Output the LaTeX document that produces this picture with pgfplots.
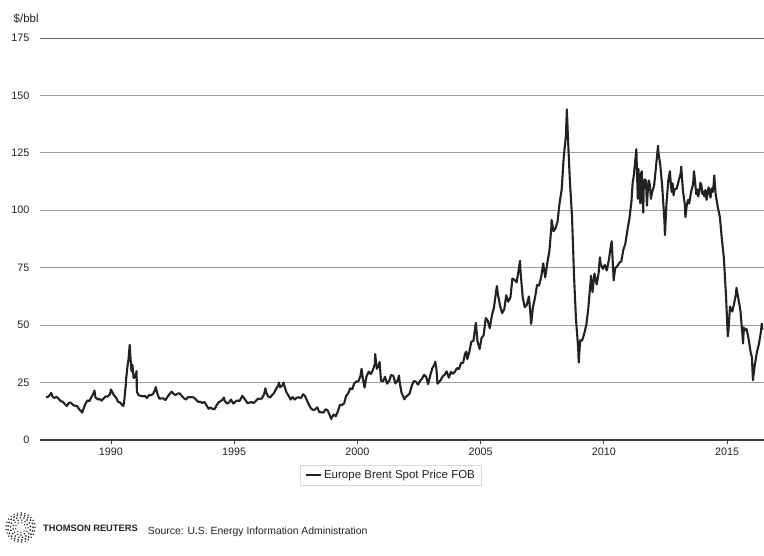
\documentclass[border=0pt]{standalone}
\usepackage{fontspec}
\setmainfont{Liberation Sans}
\usepackage{pgfplots}
\usepackage{pgfplotstable}
\pgfplotsset{compat=1.18}
\definecolor{linec}{HTML}{222222}
\definecolor{gridc}{HTML}{9C9C9C}
\definecolor{txt}{HTML}{222222}
\pgfplotstableread{
x y
1987.37 18.6
1987.46 18.9
1987.54 19.9
1987.58 20.5
1987.62 19.0
1987.71 18.3
1987.79 18.8
1987.87 18.0
1987.96 16.9
1988.04 16.7
1988.12 15.7
1988.21 14.8
1988.29 16.2
1988.37 16.2
1988.46 15.3
1988.54 14.9
1988.62 14.8
1988.71 13.4
1988.79 12.5
1988.83 11.9
1988.87 13.2
1988.96 15.6
1989.04 17.2
1989.12 16.9
1989.21 18.7
1989.29 20.3
1989.33 21.5
1989.37 18.6
1989.46 17.7
1989.54 17.8
1989.62 17.1
1989.71 18.2
1989.79 19.0
1989.87 18.9
1989.96 20.0
1990.00 22.0
1990.04 21.1
1990.12 19.5
1990.21 18.4
1990.29 16.6
1990.37 16.3
1990.46 15.2
1990.50 14.8
1990.54 17.2
1990.60 24.0
1990.62 27.2
1990.68 33.0
1990.71 34.9
1990.76 41.4
1990.79 36.0
1990.83 30.0
1990.87 32.8
1990.92 27.0
1990.96 27.3
1991.00 28.0
1991.04 30.0
1991.05 21.0
1991.12 19.5
1991.21 19.2
1991.29 19.0
1991.37 19.2
1991.46 18.3
1991.54 19.5
1991.62 19.5
1991.71 20.1
1991.79 21.9
1991.82 23.0
1991.87 20.6
1991.96 18.0
1992.04 18.1
1992.12 18.1
1992.21 17.4
1992.29 18.7
1992.37 19.9
1992.46 21.0
1992.54 20.1
1992.62 19.6
1992.71 20.2
1992.79 20.3
1992.87 19.2
1992.96 18.2
1993.04 17.6
1993.12 18.6
1993.21 18.6
1993.29 18.7
1993.37 18.4
1993.46 17.5
1993.54 16.6
1993.62 16.7
1993.71 16.1
1993.79 16.6
1993.87 15.2
1993.96 13.6
1994.04 14.2
1994.12 13.5
1994.21 13.5
1994.29 15.2
1994.37 16.4
1994.46 17.0
1994.54 17.7
1994.58 18.5
1994.62 16.9
1994.71 15.9
1994.79 16.3
1994.87 17.6
1994.96 15.9
1995.04 16.6
1995.12 17.2
1995.21 16.9
1995.29 18.4
1995.33 19.2
1995.37 18.6
1995.46 17.4
1995.54 16.0
1995.62 16.3
1995.71 16.5
1995.79 16.1
1995.87 16.9
1995.96 18.0
1996.04 17.9
1996.12 18.1
1996.21 19.8
1996.27 22.5
1996.29 21.0
1996.37 19.1
1996.46 18.5
1996.54 19.6
1996.62 20.5
1996.71 22.5
1996.79 23.6
1996.81 25.0
1996.87 23.0
1996.96 23.8
1997.00 25.0
1997.04 23.5
1997.12 20.8
1997.21 19.2
1997.29 17.6
1997.37 18.7
1997.46 17.6
1997.54 18.4
1997.62 18.6
1997.71 18.2
1997.79 19.9
1997.87 19.2
1997.96 17.1
1998.04 15.2
1998.12 13.7
1998.21 13.0
1998.29 13.4
1998.37 14.2
1998.46 12.1
1998.54 12.1
1998.62 11.9
1998.71 13.4
1998.79 12.9
1998.87 11.0
1998.94 9.1
1998.96 9.8
1999.04 11.1
1999.12 10.3
1999.21 12.5
1999.29 15.3
1999.37 15.2
1999.46 15.9
1999.54 19.1
1999.62 20.2
1999.71 22.5
1999.79 22.1
1999.87 24.6
1999.96 25.5
2000.04 25.5
2000.12 27.8
2000.17 31.0
2000.21 27.5
2000.29 22.8
2000.37 27.7
2000.46 29.8
2000.54 28.7
2000.62 30.2
2000.71 33.1
2000.72 37.4
2000.79 31.0
2000.87 32.6
2000.90 34.0
2000.96 25.7
2001.04 25.6
2001.12 27.5
2001.21 24.5
2001.29 25.7
2001.37 28.3
2001.46 27.9
2001.54 24.6
2001.62 25.7
2001.69 28.0
2001.71 25.6
2001.79 20.5
2001.87 18.8
2001.90 17.7
2001.96 18.7
2002.04 19.4
2002.12 20.3
2002.21 23.7
2002.29 25.7
2002.37 25.4
2002.46 24.1
2002.54 25.7
2002.62 26.7
2002.71 28.4
2002.79 27.5
2002.87 24.3
2002.96 28.3
2003.04 31.2
2003.12 32.8
2003.16 34.0
2003.21 30.6
2003.25 24.5
2003.29 25.0
2003.37 25.9
2003.46 27.7
2003.54 28.4
2003.62 29.9
2003.71 27.1
2003.79 29.6
2003.87 28.8
2003.96 29.8
2004.04 31.3
2004.12 30.9
2004.21 33.6
2004.29 33.6
2004.37 37.6
2004.42 38.5
2004.46 35.2
2004.54 38.2
2004.62 42.7
2004.71 43.2
2004.79 49.8
2004.81 51.0
2004.87 43.1
2004.96 39.6
2005.04 44.5
2005.12 45.5
2005.21 53.1
2005.29 51.9
2005.37 48.7
2005.46 54.4
2005.54 57.5
2005.62 64.0
2005.66 67.0
2005.71 62.9
2005.79 58.5
2005.87 55.2
2005.96 56.9
2006.04 63.0
2006.12 60.2
2006.21 62.1
2006.29 70.3
2006.37 69.8
2006.46 68.6
2006.54 73.7
2006.60 78.0
2006.62 73.2
2006.71 62.0
2006.79 57.8
2006.87 58.8
2006.96 62.5
2007.03 53.7
2007.05 50.5
2007.12 57.6
2007.21 62.1
2007.29 67.5
2007.37 67.2
2007.46 71.1
2007.54 76.9
2007.62 70.8
2007.71 77.2
2007.79 82.3
2007.87 92.4
2007.88 95.8
2007.96 90.9
2008.04 92.2
2008.12 95.0
2008.21 103.6
2008.29 109.1
2008.37 122.8
2008.46 132.3
2008.50 144.0
2008.54 132.7
2008.62 113.2
2008.71 97.2
2008.79 71.6
2008.87 52.5
2008.96 40.0
2008.98 33.7
2009.04 43.4
2009.12 43.3
2009.21 46.5
2009.29 50.2
2009.37 57.3
2009.46 68.6
2009.48 71.5
2009.54 64.4
2009.62 72.5
2009.71 67.7
2009.79 72.8
2009.84 79.5
2009.87 76.7
2009.96 74.5
2010.04 76.2
2010.12 73.8
2010.21 78.8
2010.29 84.8
2010.32 86.5
2010.37 75.9
2010.40 69.5
2010.46 74.8
2010.54 75.6
2010.62 77.0
2010.71 77.8
2010.79 82.7
2010.87 85.3
2010.96 91.5
2011.04 96.5
2011.12 103.7
2011.17 112.0
2011.21 114.6
2011.29 123.3
2011.32 126.6
2011.35 115.0
2011.38 105.0
2011.41 118.0
2011.43 108.0
2011.46 113.8
2011.48 103.0
2011.51 116.0
2011.54 117.0
2011.57 106.0
2011.60 99.0
2011.62 110.2
2011.66 113.5
2011.71 112.8
2011.75 102.0
2011.79 109.6
2011.83 113.0
2011.87 110.8
2011.91 105.0
2011.96 107.9
2012.04 110.7
2012.12 119.3
2012.20 128.1
2012.21 125.5
2012.29 119.8
2012.37 110.3
2012.46 95.2
2012.48 89.2
2012.54 102.6
2012.62 113.4
2012.68 117.0
2012.71 112.9
2012.75 108.0
2012.79 111.7
2012.83 106.5
2012.87 109.1
2012.96 109.5
2013.04 113.0
2013.12 116.1
2013.14 119.0
2013.21 108.5
2013.29 102.3
2013.31 97.0
2013.37 102.6
2013.42 104.5
2013.46 102.9
2013.54 107.9
2013.62 111.3
2013.66 117.0
2013.71 111.6
2013.75 107.0
2013.79 109.1
2013.83 106.0
2013.87 107.8
2013.92 112.0
2013.96 110.8
2014.00 107.0
2014.04 108.1
2014.08 106.0
2014.12 108.9
2014.17 104.5
2014.21 107.5
2014.25 110.0
2014.29 107.8
2014.33 105.5
2014.37 109.5
2014.42 108.0
2014.46 111.8
2014.48 115.2
2014.54 106.8
2014.62 101.6
2014.71 97.1
2014.79 87.4
2014.87 79.4
2014.96 62.3
2015.03 45.1
2015.06 48.0
2015.12 58.1
2015.21 55.9
2015.29 59.5
2015.37 64.1
2015.38 66.3
2015.46 61.5
2015.54 56.6
2015.62 46.5
2015.65 42.0
2015.68 49.0
2015.71 47.6
2015.79 48.4
2015.87 44.3
2015.96 38.0
2016.01 36.0
2016.05 26.0
2016.12 32.2
2016.21 38.2
2016.29 41.6
2016.37 46.7
2016.41 50.7
2016.43 48.0
}\brent
\begin{document}
\begin{tikzpicture}
\path[use as bounding box] (0,0) rectangle (764bp,556bp);
\begin{axis}[
  at={(40bp,116bp)}, anchor=south west,
  scale only axis, width=724bp, height=402bp,
  xmin=1987.12, xmax=2016.5, ymin=0, ymax=175,
  xtick={1990,1995,2000,2005,2010,2015},
  xticklabels={1990,1995,2000,2005,2010,2015},
  ytick={0,25,50,75,100,125,150,175},
  yticklabels={0,25,50,75,100,125,150,175},
  axis x line*=bottom, axis y line*=left,
  y axis line style={draw=none},
  x axis line style={draw=black!75, line width=1.1bp},
  tick align=outside, major tick length=4bp,
  xtick style={draw=black!75, line width=0.8bp},
  ytick style={draw=none},
  ymajorgrids, grid style={gridc, line width=0.9bp},
  tick label style={font=\fontsize{10.8bp}{12bp}\selectfont, text=txt},
  yticklabel style={xshift=-3bp},
  legend style={at={(0.4848,-0.0883)}, anchor=center, draw=black!15, line width=1bp,
    font=\fontsize{11.5bp}{13bp}\selectfont, text=txt, inner xsep=5bp, inner ysep=3bp},
  legend image code/.code={\draw[linec, line width=2bp] (0bp,0bp) -- (15bp,0bp);},
]
\draw[black!60, line width=0.9bp] (rel axis cs:0,1) -- (rel axis cs:1,1);
\addplot[linec, line width=2.1bp, line join=round] table[x=x, y=y] {\brent};
\addlegendentry{Europe Brent Spot Price FOB}
\end{axis}
\node[anchor=base west, inner sep=0, text=txt, font=\fontsize{11.5bp}{13bp}\selectfont] at (13.5bp,533.5bp) {\$/bbl};
\node[anchor=base west, inner sep=0, text=txt, font=\fontsize{9.3bp}{11bp}\selectfont\bfseries] at (43bp,25bp) {THOMSON REUTERS};
\node[anchor=base west, inner sep=0, text=txt, font=\fontsize{10.4bp}{12bp}\selectfont] at (147.7bp,22bp) {Source: U.S. Energy Information Administration};
\begin{scope}[shift={(20.5bp,28.5bp)}]
\foreach \r/\n/\s in {5/9/0.7, 7.5/13/0.85, 10/17/0.95, 12.5/21/1.0, 14.5/25/0.8} {
  \foreach \i in {1,...,\n} {
    \fill[black!85] ({360*\i/\n+7*\r}:{\r bp}) circle ({\s bp});
  }
}
\end{scope}
\end{tikzpicture}
\end{document}
